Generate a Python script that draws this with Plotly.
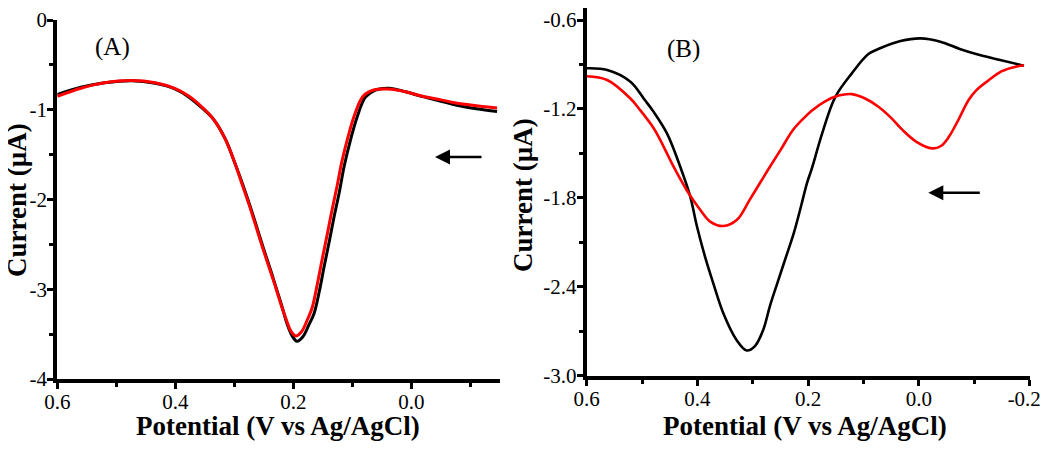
import plotly.graph_objects as go

# ---------------- data ----------------
# Panel A
a_black_v = [0.600, 0.560, 0.520, 0.474, 0.434, 0.400, 0.378, 0.355, 0.335, 0.315, 0.300, 0.286,
             0.273, 0.261, 0.250, 0.238, 0.228, 0.219, 0.211, 0.202, 0.194, 0.184, 0.174, 0.165,
             0.156, 0.148, 0.139, 0.131, 0.122, 0.114, 0.103, 0.092, 0.078, 0.061, 0.038, 0.010,
             -0.019, -0.050, -0.075, -0.110, -0.145]
a_black_i = [-0.83, -0.75, -0.70, -0.676, -0.705, -0.77, -0.854, -0.98, -1.11, -1.33, -1.58, -1.83,
             -2.08, -2.33, -2.56, -2.80, -3.01, -3.20, -3.38, -3.52, -3.58, -3.53, -3.40, -3.27,
             -3.02, -2.75, -2.46, -2.19, -1.91, -1.63, -1.33, -1.08, -0.86, -0.78, -0.76, -0.80,
             -0.854, -0.905, -0.947, -0.99, -1.02]
a_red_v = [0.600, 0.560, 0.520, 0.474, 0.434, 0.400, 0.378, 0.355, 0.336, 0.316, 0.301, 0.288,
           0.275, 0.263, 0.252, 0.240, 0.230, 0.221, 0.212, 0.204, 0.196, 0.186, 0.177, 0.168,
           0.160, 0.152, 0.143, 0.135, 0.126, 0.118, 0.107, 0.096, 0.082, 0.064, 0.040, 0.010,
           -0.019, -0.050, -0.075, -0.110, -0.145]
a_red_i = [-0.85, -0.76, -0.70, -0.675, -0.70, -0.765, -0.845, -0.97, -1.10, -1.32, -1.56, -1.81,
           -2.06, -2.31, -2.54, -2.78, -2.98, -3.17, -3.34, -3.47, -3.52, -3.47, -3.35, -3.20,
           -2.96, -2.69, -2.40, -2.13, -1.85, -1.58, -1.29, -1.05, -0.85, -0.78, -0.77, -0.80,
           -0.85, -0.89, -0.925, -0.955, -0.98]

# Panel B
b_black_v = [0.600, 0.563, 0.521, 0.495, 0.479, 0.455, 0.431, 0.413, 0.401, 0.386, 0.371, 0.353,
             0.329, 0.311, 0.296, 0.281, 0.269, 0.256, 0.241, 0.226, 0.213, 0.202, 0.193, 0.175,
             0.151, 0.121, 0.091, 0.070, 0.033, -0.003, -0.039, -0.074, -0.110, -0.147, -0.190]
b_black_i = [-0.926, -0.937, -1.016, -1.14, -1.22, -1.365, -1.59, -1.79, -1.99, -2.20, -2.38, -2.58,
             -2.76, -2.83, -2.80, -2.69, -2.53, -2.38, -2.21, -2.04, -1.86, -1.70, -1.60, -1.37,
             -1.12, -0.96, -0.83, -0.791, -0.742, -0.724, -0.746, -0.795, -0.836, -0.87, -0.908]
b_red_v = [0.600, 0.563, 0.521, 0.503, 0.479, 0.467, 0.443, 0.419, 0.395, 0.377, 0.353, 0.329,
           0.305, 0.269, 0.247, 0.229, 0.210, 0.193, 0.170, 0.145, 0.121, 0.097, 0.073, 0.050,
           0.030, 0.005, -0.024, -0.040, -0.054, -0.072, -0.090, -0.105, -0.125, -0.150, -0.175,
           -0.190]
b_red_i = [-0.98, -1.005, -1.13, -1.21, -1.33, -1.41, -1.59, -1.75, -1.88, -1.96, -1.99, -1.95,
           -1.81, -1.59, -1.46, -1.35, -1.27, -1.21, -1.15, -1.11, -1.10, -1.13, -1.185, -1.26,
           -1.34, -1.42, -1.466, -1.45, -1.39, -1.27, -1.14, -1.07, -1.01, -0.945, -0.915,
           -0.905]

# tick labels
a_xtick_vals = [0.6, 0.4, 0.2, 0.0]
a_xtick_text = ["0.6", "0.4", "0.2", "0.0"]
a_ytick_vals = [0, -1, -2, -3, -4]
a_ytick_text = ["0", "-1", "-2", "-3", "-4"]
b_xtick_vals = [0.6, 0.4, 0.2, 0.0, -0.2]
b_xtick_text = ["0.6", "0.4", "0.2", "0.0", "-0.2\u00a0\u00a0"]
b_ytick_vals = [-0.6, -1.2, -1.8, -2.4, -3.0]
b_ytick_text = ["-0.6", "-1.2", "-1.8", "-2.4", "-3.0"]

x_title = "Potential (V vs Ag/AgCl)"
y_title = "Current (µA)"

# ---------------- figure ----------------
# the page body has an 8px margin, so the figure is placed 8px in
OFF = 8
W, H = 1042, 443
FONT = "Liberation Serif, Times New Roman, serif"

fig = go.Figure()
fig.add_trace(go.Scatter(x=a_black_v, y=a_black_i, mode="lines", xaxis="x", yaxis="y",
                         line=dict(color="black", width=3, shape="spline", smoothing=1.0)))
fig.add_trace(go.Scatter(x=a_red_v, y=a_red_i, mode="lines", xaxis="x", yaxis="y",
                         line=dict(color="#ff0000", width=3, shape="spline", smoothing=1.0)))
fig.add_trace(go.Scatter(x=b_black_v, y=b_black_i, mode="lines", xaxis="x2", yaxis="y2",
                         line=dict(color="black", width=2.6, shape="spline", smoothing=1.0)))
fig.add_trace(go.Scatter(x=b_red_v, y=b_red_i, mode="lines", xaxis="x2", yaxis="y2",
                         line=dict(color="#ff0000", width=2.6, shape="spline", smoothing=1.0)))


def px(x):
    return min(max((x - OFF) / W, 0.0), 1.0)


def py(y):
    return min(max((H - (y - OFF)) / H, 0.0), 1.0)


axis_common = dict(showline=True, linecolor="black", linewidth=4, ticks="outside",
                   tickwidth=3, ticklen=6, tickcolor="black", showgrid=False, zeroline=False,
                   automargin=False, layer="above traces", ticklabeloverflow="allow",
                   tickfont=dict(family=FONT, size=21, color="black"), mirror=False)


def minor(dt, t0):
    return dict(dtick=dt, tick0=t0, ticks="outside", ticklen=4, tickwidth=3,
                tickcolor="black", showgrid=False)


fig.update_layout(
    template="none",
    width=W, height=H, margin=dict(l=0, r=0, t=0, b=0, autoexpand=False),
    paper_bgcolor="white", plot_bgcolor="white", showlegend=False,
    font=dict(family=FONT, color="black"),
    xaxis=dict(domain=[px(57.3), px(500)], range=[0.6, -0.15], anchor="y",
               tickvals=a_xtick_vals, ticktext=a_xtick_text, minor=minor(0.1, 0),
               ticklabelstandoff=-5, **axis_common),
    yaxis=dict(domain=[py(379), py(20)], range=[-4, 0], anchor="x",
               tickvals=a_ytick_vals, ticktext=a_ytick_text, minor=minor(0.5, 0),
               ticklabelstandoff=-4, **axis_common),
    xaxis2=dict(domain=[px(586.7), px(1029.5)], range=[0.6, -0.2], anchor="y2",
                tickvals=b_xtick_vals, ticktext=b_xtick_text, minor=minor(0.1, 0),
                ticklabelstandoff=-5, **axis_common),
    yaxis2=dict(domain=[py(375.7), py(8)], range=[-3.0, -0.519], anchor="x2",
                tickvals=b_ytick_vals, ticktext=b_ytick_text, minor=minor(0.3, -3.0),
                ticklabelstandoff=-4, **axis_common),
)

title_font = dict(family=FONT, size=27, color="black")
ann = [
    dict(text="<b>%s</b>" % x_title, x=px(278), y=py(426), xref="paper", yref="paper",
         showarrow=False, font=title_font, xanchor="center", yanchor="middle"),
    dict(text="<b>%s</b>" % x_title, x=px(805), y=py(426), xref="paper", yref="paper",
         showarrow=False, font=title_font, xanchor="center", yanchor="middle"),
    dict(text="<b>%s</b>" % y_title, x=px(17), y=py(200), xref="paper", yref="paper",
         showarrow=False, font=title_font, textangle=-90, xanchor="center", yanchor="middle"),
    dict(text="<b>%s</b>" % y_title, x=px(523), y=py(195), xref="paper", yref="paper",
         showarrow=False, font=title_font, textangle=-90, xanchor="center", yanchor="middle"),
    dict(text="(A)", x=px(112), y=py(47), xref="paper", yref="paper", showarrow=False,
         font=dict(family=FONT, size=25, color="black"), xanchor="center", yanchor="middle"),
    dict(text="(B)", x=px(683), y=py(49), xref="paper", yref="paper", showarrow=False,
         font=dict(family=FONT, size=25, color="black"), xanchor="center", yanchor="middle"),
    # direction arrows
    dict(text="", x=px(435), y=py(157), ax=48, ay=0, xref="paper", yref="paper",
         axref="pixel", ayref="pixel", showarrow=True, arrowhead=2, arrowsize=1.2,
         arrowwidth=2.5, arrowcolor="black", standoff=0, startstandoff=0),
    dict(text="", x=px(928.3), y=py(192.7), ax=53, ay=0, xref="paper", yref="paper",
         axref="pixel", ayref="pixel", showarrow=True, arrowhead=2, arrowsize=1.2,
         arrowwidth=2.5, arrowcolor="black", standoff=0, startstandoff=0),
]
fig.update_layout(annotations=ann)

fig.write_html("out.html")
